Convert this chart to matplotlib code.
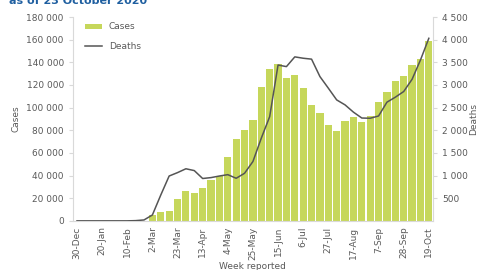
import matplotlib.pyplot as plt
from matplotlib.ticker import FuncFormatter

weeks = ['30-Dec', '6-Jan', '13-Jan', '20-Jan', '27-Jan', '3-Feb', '10-Feb', '17-Feb',
         '24-Feb', '2-Mar', '9-Mar', '16-Mar', '23-Mar', '30-Mar', '6-Apr', '13-Apr',
         '20-Apr', '27-Apr', '4-May', '11-May', '18-May', '25-May', '1-Jun', '8-Jun',
         '15-Jun', '22-Jun', '29-Jun', '6-Jul', '13-Jul', '20-Jul', '27-Jul', '3-Aug',
         '10-Aug', '17-Aug', '24-Aug', '31-Aug', '7-Sep', '14-Sep', '21-Sep', '28-Sep',
         '5-Oct', '12-Oct', '19-Oct']

cases = [0, 0, 0, 0, 0, 0, 0, 0, 0,
         5300, 7700, 9100, 19700, 26500, 25000, 28800, 36200, 40000, 56300,
         72100, 80300, 88800, 118200, 134400, 138300, 126500, 128500, 117700,
         102600, 95000, 85000, 79000, 88500, 91800, 87100, 92400, 105300,
         113800, 123800, 127700, 137600, 142700, 159100]

deaths = [0, 0, 0, 0, 0, 0, 0, 5, 20,
          130, 570, 990, 1065, 1150, 1110, 935, 955, 990, 1020,
          940, 1050, 1310, 1825, 2300, 3440, 3405, 3620, 3590,
          3570, 3185, 2930, 2670, 2560, 2400, 2270, 2265, 2315,
          2620, 2730, 2855, 3125, 3550, 4030]

grey = '#595959'
spine = '#d9d9d9'
x = list(range(len(weeks)))

def fmt(v, pos):
    return '{:,}'.format(int(v)).replace(',', ' ')

fig = plt.figure(figsize=(4.79, 2.70), dpi=100)
ax = fig.add_axes([0.152, 0.182, 0.752, 0.755])
ax.bar(x, cases, width=0.86, color='#c6d75b', label='Cases', zorder=1)
ax.set_xlim(-0.5, 42.5)
ax.set_ylim(0, 180000)
ax.set_yticks(range(0, 180001, 20000))
ax.yaxis.set_major_formatter(FuncFormatter(fmt))
ax.set_xticks(x[::3])
ax.set_xticklabels(weeks[::3], rotation=90)
ax.tick_params(axis='x', length=0, labelsize=6.5, labelcolor=grey, pad=4)
ax.tick_params(axis='y', length=3, color=spine, labelsize=6.5, labelcolor=grey)
ax.set_ylabel('Cases', fontsize=6.5, color=grey)
ax.set_xlabel('Week reported', fontsize=6.5, color=grey, labelpad=2)
for s in ['top', 'right']:
    ax.spines[s].set_visible(False)
for s in ['left', 'bottom']:
    ax.spines[s].set_color(spine)

ax2 = ax.twinx()
ax2.plot(x, deaths, color='#555555', lw=1.1, label='Deaths')
ax2.set_ylim(0, 4500)
ax2.set_yticks(range(500, 4501, 500))
ax2.yaxis.set_major_formatter(FuncFormatter(fmt))
ax2.tick_params(axis='y', length=3, color=spine, labelsize=6.5, labelcolor=grey)
ax2.set_ylabel('Deaths', fontsize=6.5, color=grey, labelpad=1)
for s in ['top', 'left', 'bottom']:
    ax2.spines[s].set_visible(False)
ax2.spines['right'].set_color(spine)

h1, l1 = ax.get_legend_handles_labels()
h2, l2 = ax2.get_legend_handles_labels()
leg = ax2.legend(h1 + h2, l1 + l2, loc='upper left', bbox_to_anchor=(0.02, 1.0),
                 frameon=False, fontsize=6.5, handlelength=1.8, handleheight=0.5,
                 labelspacing=1.2, borderaxespad=0.2)
for t in leg.get_texts():
    t.set_color(grey)

fig.text(0.018, 0.997, 'as of 23 October 2020', fontsize=8, fontweight='bold',
         color='#1f5fa0', va='center', ha='left')

fig.savefig('out.png', dpi=100)
